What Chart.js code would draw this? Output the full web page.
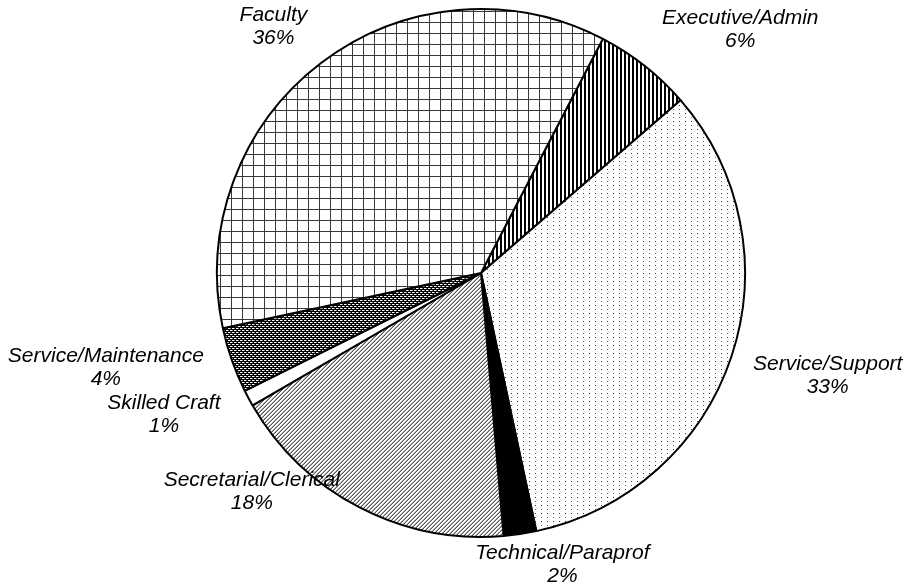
<!DOCTYPE html>
<html>
<head>
<meta charset="utf-8">
<title>Staff by Category</title>
<script src="https://cdn.jsdelivr.net/npm/chart.js@4"></script>
<style>
    html, body { margin: 0; padding: 0; background: #fff; }
    canvas { display: block; }
</style>
</head>
<body>
<canvas id="staffChart" width="906" height="588"></canvas>
<script>
// Staff categories, clockwise from the Executive/Admin wedge
const categories = ['Executive/Admin', 'Service/Support', 'Technical/Paraprof', 'Secretarial/Clerical', 'Skilled Craft', 'Service/Maintenance', 'Faculty'];
const shares = [6, 33, 2, 18, 1, 4, 36];

// Label nudges (px) applied after the outside-end placement
const labelNudges = [[41, -10], [16, 8], [28, -2], [-62, -45], [-26, 1], [-24, -4], [-21, -10]];

const canvas = document.getElementById('staffChart');
const ctx = canvas.getContext('2d');

/**
 * Build a repeating fill from a small tile
 */
function makePattern(w, h, draw) {
    const tile = document.createElement('canvas');
    tile.width = w;
    tile.height = h;
    const g = tile.getContext('2d');
    draw(g);
    return ctx.createPattern(tile, 'repeat');
}

function px(g, color, points) {
    g.fillStyle = color;
    points.forEach(p => g.fillRect(p[0], p[1], 1, 1));
}

const fills = [
    // vertical stripes
    makePattern(4, 1, g => {
        g.fillStyle = '#fff'; g.fillRect(0, 0, 4, 1);
        g.fillStyle = '#000'; g.fillRect(0, 0, 2, 1);
    }),
    // sparse dots
    makePattern(6, 8, g => {
        g.fillStyle = '#fff'; g.fillRect(0, 0, 6, 8);
        px(g, '#333', [[1, 1]]);
        px(g, '#666', [[1, 5]]);
    }),
    '#000',
    // fine diagonal lines
    makePattern(4, 4, g => {
        g.fillStyle = '#fff'; g.fillRect(0, 0, 4, 4);
        px(g, '#555', [[3, 0], [2, 1], [1, 2], [0, 3]]);
        px(g, '#aaa', [[2, 0], [1, 1], [0, 2], [3, 3]]);
    }),
    '#fff',
    // dark weave
    makePattern(4, 4, g => {
        g.fillStyle = '#000'; g.fillRect(0, 0, 4, 4);
        px(g, '#fff', [[0, 0], [1, 0], [2, 2], [3, 2]]);
        px(g, '#888', [[2, 0], [0, 2]]);
    }),
    // square grid
    makePattern(11, 11, g => {
        g.fillStyle = '#fff'; g.fillRect(0, 0, 11, 11);
        g.fillStyle = '#3a3a3a';
        g.fillRect(0, 0, 11, 1);
        g.fillRect(0, 0, 1, 11);
    })
];

// Two-line "name / percent" labels outside each wedge
const outsideLabels = {
    id: 'outsideLabels',
    afterDatasetsDraw(chart) {
        const meta = chart.getDatasetMeta(0);
        const c = chart.ctx;
        const lineHeight = 23;
        c.save();
        c.font = 'italic 21px "Liberation Sans", Arial, sans-serif';
        c.fillStyle = '#000';
        c.textAlign = 'center';
        c.textBaseline = 'middle';
        meta.data.forEach((arc, i) => {
            const p = arc.getProps(['x', 'y', 'startAngle', 'endAngle', 'outerRadius'], true);
            const mid = (p.startAngle + p.endAngle) / 2;
            const ux = Math.cos(mid);
            const uy = Math.sin(mid);
            const lines = [categories[i], shares[i] + '%'];
            const w = Math.max(...lines.map(t => c.measureText(t).width));
            const h = lineHeight * 2;
            const r = p.outerRadius + 10;
            const cx = p.x + r * ux + ux * w / 2 + labelNudges[i][0];
            const cy = p.y + r * uy + uy * h / 2 + labelNudges[i][1];
            c.fillText(lines[0], cx, cy - lineHeight / 2);
            c.fillText(lines[1], cx, cy + lineHeight / 2);
        });
        c.restore();
    }
};

new Chart(canvas, {
    type: 'pie',
    data: {
        labels: categories,
        datasets: [{
            data: shares,
            backgroundColor: fills,
            borderColor: '#000',
            borderWidth: 2
        }]
    },
    options: {
        responsive: false,
        animation: false,
        rotation: 27.5,
        layout: {
            padding: { left: 216, right: 160, top: 8, bottom: 50 }
        },
        plugins: {
            legend: { display: false },
            tooltip: { enabled: false }
        },
        events: []
    },
    plugins: [outsideLabels]
});
</script>
</body>
</html>
